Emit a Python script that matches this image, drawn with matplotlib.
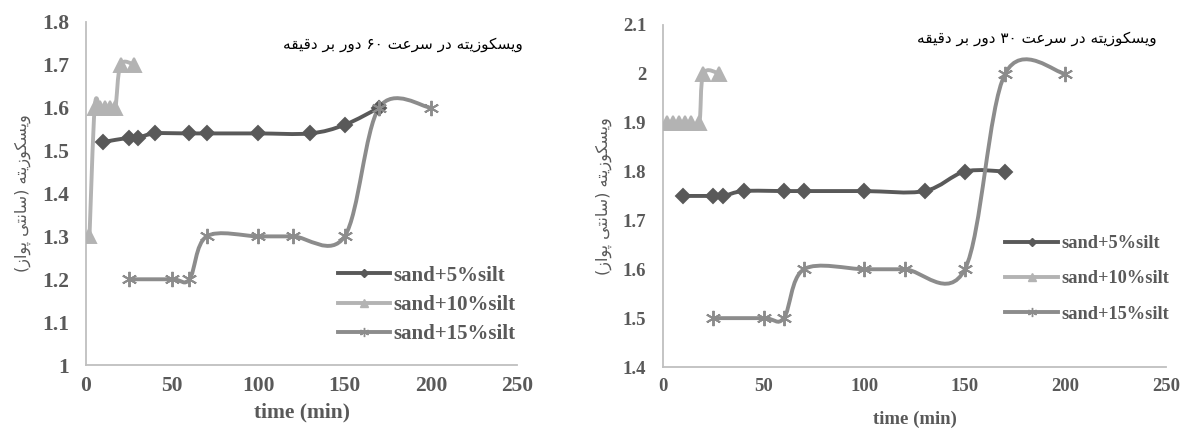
import matplotlib
matplotlib.use('Agg')
import matplotlib.pyplot as plt
from matplotlib.path import Path
from matplotlib.patches import PathPatch
from matplotlib.ticker import FuncFormatter
import numpy as np

# ----------------------------
# Data
# ----------------------------
x_5 = [10, 25, 30, 40, 60, 70, 100, 130, 150, 170]
y_5_60 = [1.52, 1.53, 1.53, 1.54, 1.54, 1.54, 1.54, 1.54, 1.56, 1.60]
y_5_30 = [1.75, 1.75, 1.75, 1.76, 1.76, 1.76, 1.76, 1.76, 1.80, 1.80]

x_10_60 = [2, 5, 8, 11, 14, 17, 20, 28]
y_10_60 = [1.3, 1.6, 1.6, 1.6, 1.6, 1.6, 1.7, 1.7]
x_10_30 = [2, 5, 8, 11, 14, 18, 20, 28]
y_10_30 = [1.9, 1.9, 1.9, 1.9, 1.9, 1.9, 2.0, 2.0]

x_15 = [25, 50, 60, 70, 100, 120, 150, 170, 200]
y_15_60 = [1.2, 1.2, 1.2, 1.3, 1.3, 1.3, 1.3, 1.6, 1.6]
y_15_30 = [1.5, 1.5, 1.5, 1.6, 1.6, 1.6, 1.6, 2.0, 2.0]

labels = ['sand+5%silt', 'sand+10%silt', 'sand+15%silt']
title_60 = 'ویسکوزیته در سرعت ۶۰ دور بر دقیقه'
title_30 = 'ویسکوزیته در سرعت ۳۰ دور بر دقیقه'
ylabel_fa = 'ویسکوزیته (سانتی پواز)'

# ----------------------------
# Minimal Persian shaping (matplotlib has no bidi/shaping)
# forms: isolated, final, initial, medial (None -> right-joining only)
# ----------------------------
FORMS = {
    'و': (0xFEED, 0xFEEE, None, None),
    'ی': (0xFBFC, 0xFBFD, 0xFBFE, 0xFBFF),
    'س': (0xFEB1, 0xFEB2, 0xFEB3, 0xFEB4),
    'ک': (0xFB8E, 0xFB8F, 0xFB90, 0xFB91),
    'ز': (0xFEAF, 0xFEB0, None, None),
    'ت': (0xFE95, 0xFE96, 0xFE97, 0xFE98),
    'ه': (0xFEE9, 0xFEEA, 0xFEEB, 0xFEEC),
    'ا': (0xFE8D, 0xFE8E, None, None),
    'ن': (0xFEE5, 0xFEE6, 0xFEE7, 0xFEE8),
    'پ': (0xFB56, 0xFB57, 0xFB58, 0xFB59),
    'د': (0xFEA9, 0xFEAA, None, None),
    'ر': (0xFEAD, 0xFEAE, None, None),
    'ع': (0xFEC9, 0xFECA, 0xFECB, 0xFECC),
    'ب': (0xFE8F, 0xFE90, 0xFE91, 0xFE92),
    'ق': (0xFED5, 0xFED6, 0xFED7, 0xFED8),
}


def shape_fa(s):
    out = []
    for i, ch in enumerate(s):
        if ch not in FORMS:
            out.append(ch)
            continue
        prev = s[i - 1] if i > 0 else ''
        nxt = s[i + 1] if i + 1 < len(s) else ''
        j_prev = prev in FORMS and FORMS[prev][2] is not None
        j_next = FORMS[ch][2] is not None and nxt in FORMS
        f = FORMS[ch]
        if j_prev and j_next:
            out.append(chr(f[3]))
        elif j_prev:
            out.append(chr(f[1]))
        elif j_next:
            out.append(chr(f[2]))
        else:
            out.append(chr(f[0]))
    # visual order: reverse, keep digit runs LTR, mirror brackets
    vis = ''.join(out)[::-1]
    res, run = '', ''
    for ch in vis:
        if '۰' <= ch <= '۹':
            run += ch
        else:
            res += run[::-1] + ch
            run = ''
    res += run[::-1]
    return res.translate(str.maketrans('()', ')('))


def smooth_path(xs, ys, k=1.0 / 6):
    # Excel-like smoothed line: Catmull-Rom as cubic Bezier
    p = np.column_stack([xs, ys]).astype(float)
    n = len(p)
    verts = [p[0]]
    codes = [Path.MOVETO]
    for i in range(n - 1):
        p0 = p[i - 1] if i > 0 else p[i]
        p1, p2 = p[i], p[i + 1]
        p3 = p[i + 2] if i + 2 < n else p[i + 1]
        c1 = p1 + (p2 - p0) * k
        c2 = p2 - (p3 - p1) * k
        verts += [c1, c2, p2]
        codes += [Path.CURVE4] * 3
    return Path(verts, codes)


C5 = '#595959'
C10 = '#B3B3B3'
C15 = '#8C8C8C'
TXT = '#595959'
SERIF = 'Liberation Serif'


def draw(ax, series, ylim, fs, xpad, title, tx, ty):
    for (xs, ys, c, m, ms, lab) in series:
        patch = PathPatch(smooth_path(xs, ys), fill=False, edgecolor=c,
                          lw=2.8, capstyle='round', joinstyle='round', zorder=2)
        ax.add_patch(patch)
        ax.plot(xs, ys, ls='none', marker=m, ms=ms, color=c, mec=c,
                mew=1.4, zorder=3)
        ax.plot([], [], color=c, lw=2.8, marker=m, ms=ms * 0.6, mew=1.0,
                label=lab)
    ax.set_xlim(0, 250)
    ax.set_ylim(*ylim)
    ax.set_xticks(range(0, 251, 50))
    ax.set_yticks(np.round(np.arange(ylim[0], ylim[1] + 0.01, 0.1), 1))
    ax.yaxis.set_major_formatter(FuncFormatter(lambda v, p: f'{v:g}'))
    for s in ['top', 'right']:
        ax.spines[s].set_visible(False)
    for s in ['left', 'bottom']:
        ax.spines[s].set_color('#BFBFBF')
        ax.spines[s].set_linewidth(1.3)
    ax.tick_params(axis='y', length=0, pad=12, colors=TXT, labelsize=fs)
    ax.tick_params(axis='x', length=0, pad=8, colors=TXT, labelsize=fs)
    for t in ax.get_xticklabels() + ax.get_yticklabels():
        t.set_fontfamily(SERIF)
        t.set_fontweight('bold')
    ax.set_xlabel('time (min)', family=SERIF, fontweight='bold',
                  fontsize=fs, color=TXT, labelpad=xpad)
    ax.set_ylabel(shape_fa(ylabel_fa), family='DejaVu Sans', fontsize=11.5,
                  color=TXT, labelpad=8)
    ax.figure.text(tx, ty, shape_fa(title), family='DejaVu Sans',
                   fontsize=11, ha='right', va='center', color='black')


fig = plt.figure(figsize=(11.82, 4.29), dpi=100)
ax1 = fig.add_axes([0.0728, 0.149, 0.3646, 0.800])
ax2 = fig.add_axes([0.561, 0.1445, 0.4255, 0.7975])

draw(ax1, [
    (x_5, y_5_60, C5, 'D', 7.5, labels[0]),
    (x_10_60, y_10_60, C10, '^', 10.5, labels[1]),
    (x_15, y_15_60, C15, (6, 2, 0), 11, labels[2]),
], (1.0, 1.8), 15.5, 4.5, title_60, 523 / 1182, 1 - 45 / 429)

draw(ax2, [
    (x_5, y_5_30, C5, 'D', 7.5, labels[0]),
    (x_10_30, y_10_30, C10, '^', 10.5, labels[1]),
    (x_15, y_15_30, C15, (6, 2, 0), 11, labels[2]),
], (1.4, 2.1), 13.5, 11, title_30, 1157 / 1182, 1 - 38 / 429)

leg1 = ax1.legend(loc='center left', bbox_to_anchor=(338 / 1182, 1 - 305 / 429),
                  bbox_transform=fig.transFigure, frameon=False, handlelength=2.5,
                  handletextpad=0.15, labelspacing=0.45, borderpad=0,
                  borderaxespad=0,
                  prop={'family': SERIF, 'weight': 'bold', 'size': 15})
leg2 = ax2.legend(loc='center left', bbox_to_anchor=(1005 / 1182, 1 - 279 / 429),
                  bbox_transform=fig.transFigure, frameon=False, handlelength=2.9,
                  handletextpad=0.15, labelspacing=1.0, borderpad=0,
                  borderaxespad=0,
                  prop={'family': SERIF, 'weight': 'bold', 'size': 13.2})
for leg in (leg1, leg2):
    for t in leg.get_texts():
        t.set_color(TXT)

fig.savefig('out.png', dpi=100)
